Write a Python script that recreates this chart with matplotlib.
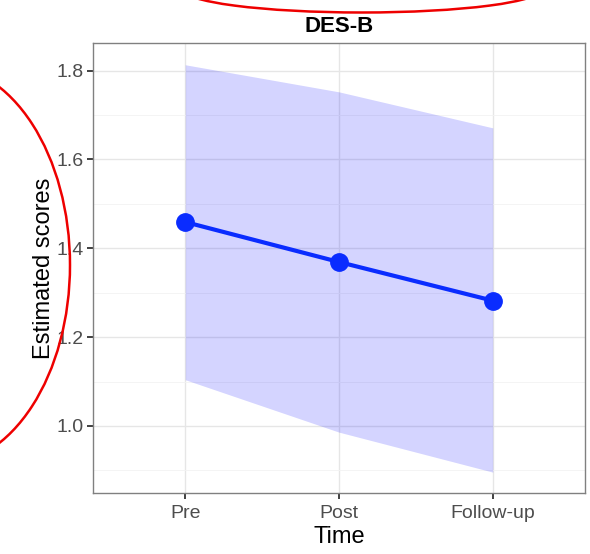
import matplotlib.pyplot as plt
from matplotlib.patches import Ellipse
from matplotlib.ticker import MultipleLocator

plt.rcParams['font.family'] = ['Liberation Sans', 'DejaVu Sans']

# data
times = ['Pre', 'Post', 'Follow-up']
estimate = [1.459, 1.369, 1.282]
ci_low = [1.104, 0.986, 0.896]
ci_high = [1.813, 1.752, 1.671]

x = list(range(1, len(times) + 1))

fig = plt.figure(figsize=(5.9, 5.54), dpi=100)
ax = fig.add_axes([0.1576, 0.1101, 0.8339, 0.8123])

ax.fill_between(x, ci_low, ci_high, color='#0000ff', alpha=0.17, lw=0, zorder=2)
ax.plot(x, estimate, color='#0a2cff', lw=3, marker='o', markersize=12.5, zorder=3)

ax.set_xlim(0.4, 3.6)
ax.set_ylim(0.849, 1.862)
ax.set_xticks(x)
ax.set_xticklabels(times)
ax.yaxis.set_major_locator(MultipleLocator(0.2))
ax.yaxis.set_minor_locator(MultipleLocator(0.1))
ax.xaxis.set_minor_locator(plt.NullLocator())

ax.grid(True, which='major', color='#e6e6e6', lw=1.0, zorder=0)
ax.grid(True, which='minor', axis='y', color='#f2f2f2', lw=0.6, zorder=0)
ax.set_axisbelow(True)
for s in ax.spines.values():
    s.set_color('#808080')
    s.set_linewidth(1.0)
ax.tick_params(axis='both', which='major', length=4.3, width=1.3, color='#333333',
               labelsize=14, labelcolor='#4d4d4d', pad=2.5)
ax.tick_params(axis='x', which='major', pad=4)
ax.tick_params(axis='y', which='minor', length=0)

ax.set_xlabel('Time', fontsize=17, color='black', labelpad=3)
ax.set_ylabel('Estimated scores', fontsize=17, color='black', labelpad=1)
ax.set_title('DES-B', fontsize=16, fontweight='bold', pad=8)

# red hand-drawn circles over the figure (pixel coords)
over = fig.add_axes([0, 0, 1, 1], facecolor='none')
over.set_xlim(0, 590)
over.set_ylim(554, 0)
over.axis('off')
over.add_patch(Ellipse((-60, 265), 260, 400, fill=False, edgecolor='#ee0000', lw=1.8))
over.add_patch(Ellipse((362, -11), 360, 47, fill=False, edgecolor='#ee0000', lw=1.8))

fig.savefig('out.png', dpi=100)
